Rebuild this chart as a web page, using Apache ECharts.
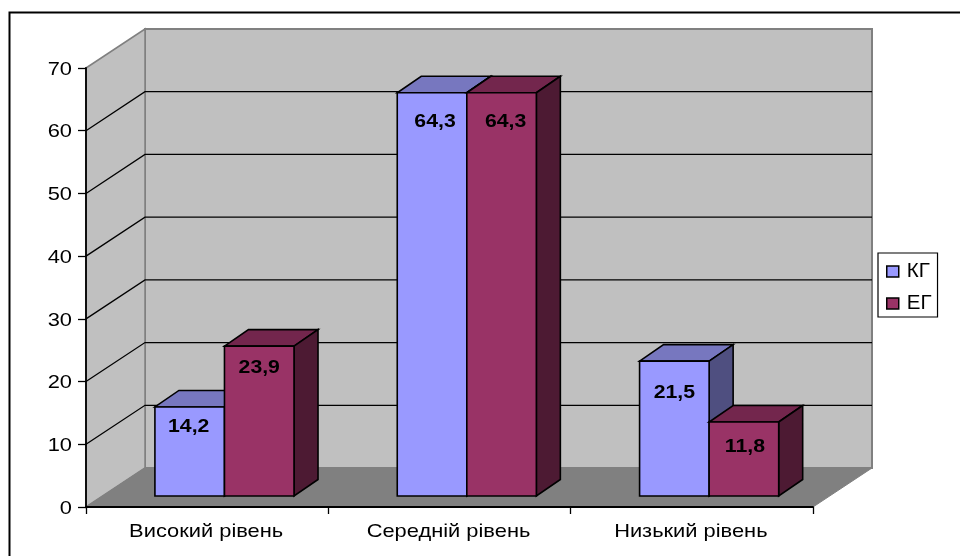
<!DOCTYPE html>
<html>
<head>
<meta charset="utf-8">
<style>html,body{margin:0;padding:0;background:#fff}#chart{width:960px;height:556px}</style>
<script src="https://cdn.jsdelivr.net/npm/echarts@6/dist/echarts.min.js"></script>
</head>
<body>
<div id="chart"></div>
<script>
// Survey levels by group
const categories = ['Високий рівень', 'Середній рівень', 'Низький рівень'];
const groupK = [14.2, 64.3, 21.5];
const groupE = [23.9, 64.3, 11.8];
const valueTicks = [0, 10, 20, 30, 40, 50, 60, 70];

// Oblique projection used to fake the 3D box
const WALL = { dx: 59, dy: -39 };
const FRONT = { dx: 17.3, dy: -11 };
const BAR_DEPTH = { dx: 24, dy: -16.5 };
const BAR_FRACTION = 0.287;

// Text placement inside each bar: [sideways, downwards from the bar top]
const labelOffsetK = [[-1, 20], [3, 29], [0, 32]];
const labelOffsetE = [[0, 22], [4, 29], [1, 25]];

const colorsK = { front: '#9999FF', top: '#7777BF', side: '#4F4F80' };
const colorsE = { front: '#993366', top: '#73264D', side: '#4D1A33' };
const STROKE = '#000000';
const FONT = '"Liberation Sans", Arial, sans-serif';

// All chart text is set in a slightly widened Arial-style face
const TEXT_STYLES = {
  normal: { size: 19, widen: 1.15 },
  bold: { size: 18, widen: 1.18 }
};

function poly(points, fill, stroke, lineWidth) {
  return {
    type: 'polygon',
    shape: { points },
    style: { fill, stroke: stroke || null, lineWidth: lineWidth || 0, lineJoin: 'miter' }
  };
}

function wideText(x, y, text, align, weight) {
  const t = TEXT_STYLES[weight];
  return {
    type: 'text',
    x,
    y,
    scaleX: t.widen,
    z2: 10,
    style: {
      x: 0,
      y: 0,
      text,
      align,
      verticalAlign: 'middle',
      font: weight + ' ' + t.size + 'px ' + FONT,
      fill: '#000'
    }
  };
}

function wallsItem(params, api) {
  const half = api.size([1, 0])[0] / 2;
  const bl = api.coord([0, 0]);
  const tl = api.coord([0, 70]);
  const br = api.coord([2, 0]);
  const x0 = bl[0] - half, x1 = br[0] + half;
  const y0 = bl[1], y1 = tl[1];
  const d = WALL;
  const edge = '#808080';
  return {
    type: 'group',
    children: [
      poly([[x0 + d.dx, y1 + d.dy], [x1 + d.dx, y1 + d.dy], [x1 + d.dx, y0 + d.dy], [x0 + d.dx, y0 + d.dy]], '#C0C0C0', edge, 2),
      poly([[x0, y1], [x0 + d.dx, y1 + d.dy], [x0 + d.dx, y0 + d.dy], [x0, y0]], '#C0C0C0', edge, 1.5),
      poly([[x0, y0], [x0 + d.dx, y0 + d.dy], [x1 + d.dx, y0 + d.dy], [x1, y0]], '#808080', edge, 1)
    ]
  };
}

function gridItem(params, api) {
  const half = api.size([1, 0])[0] / 2;
  const v = api.value(0);
  if (v === 0 || v === 70) return null;
  const x0 = api.coord([0, v])[0] - half;
  const x1 = api.coord([2, v])[0] + half;
  const y = api.coord([0, v])[1];
  return {
    type: 'polyline',
    shape: { points: [[x0, y], [x0 + WALL.dx, y + WALL.dy], [x1 + WALL.dx, y + WALL.dy]] },
    style: { stroke: STROKE, lineWidth: 1.3, fill: null }
  };
}

function valueLabelItem(params, api) {
  const half = api.size([1, 0])[0] / 2;
  const v = api.value(0);
  const p = api.coord([0, v]);
  return wideText(p[0] - half - 14, p[1] + 1.5, String(v), 'right', 'normal');
}

function categoryLabelItem(params, api) {
  const p = api.coord([api.value(0), 0]);
  return wideText(p[0] - 1, p[1] + 25, categories[params.dataIndex], 'center', 'normal');
}

function barRenderer(colors, shift, offsets) {
  return function (params, api) {
    const w = api.size([1, 0])[0] * BAR_FRACTION;
    const i = api.value(0);
    const val = api.value(1);
    const base = api.coord([i, 0]);
    const head = api.coord([i, val]);
    const xl = base[0] + FRONT.dx + shift * w;
    const xr = xl + w;
    const yb = base[1] + FRONT.dy;
    const yt = head[1] + FRONT.dy;
    const ddx = BAR_DEPTH.dx, ddy = BAR_DEPTH.dy;
    const off = offsets[params.dataIndex];
    const text = String(val).replace('.', ',');
    return {
      type: 'group',
      children: [
        poly([[xl, yt], [xr, yt], [xr + ddx, yt + ddy], [xl + ddx, yt + ddy]], colors.top, STROKE, 1.6),
        poly([[xr, yt], [xr + ddx, yt + ddy], [xr + ddx, yb + ddy], [xr, yb]], colors.side, STROKE, 1.6),
        poly([[xl, yt], [xr, yt], [xr, yb], [xl, yb]], colors.front, STROKE, 1.6),
        wideText((xl + xr) / 2 + off[0], yt + off[1], text, 'center', 'bold')
      ]
    };
  };
}

const chart = echarts.init(document.getElementById('chart'), null, { renderer: 'canvas' });
chart.setOption({
  animation: false,
  backgroundColor: '#ffffff',
  grid: { left: 86, top: 68, width: 727, height: 439, containLabel: false },
  xAxis: {
    type: 'category',
    data: categories,
    z: 5,
    axisLine: { lineStyle: { color: STROKE, width: 1.8 } },
    axisTick: { show: true, length: 7, alignWithLabel: false, lineStyle: { color: STROKE, width: 1.3 } },
    axisLabel: { show: false }
  },
  yAxis: {
    type: 'value',
    min: 0,
    max: 70,
    interval: 10,
    z: 5,
    splitLine: { show: false },
    axisLine: { show: true, lineStyle: { color: STROKE, width: 1.8 } },
    axisTick: { show: true, length: 8, lineStyle: { color: STROKE, width: 1.3 } },
    axisLabel: { show: false }
  },
  legend: {
    orient: 'vertical',
    left: 878,
    top: 253,
    padding: [8, 6, 3, 8],
    itemGap: 11,
    itemWidth: 12,
    itemHeight: 11,
    backgroundColor: '#fff',
    borderColor: '#000',
    borderWidth: 1.2,
    borderRadius: 0,
    textStyle: { color: '#000', fontFamily: FONT, fontSize: 20.5, lineHeight: 20, padding: [0, 0, 0, 3] },
    data: [
      { name: 'КГ', icon: 'rect', itemStyle: { color: colorsK.front, borderColor: '#000', borderWidth: 1.5 } },
      { name: 'ЕГ', icon: 'rect', itemStyle: { color: colorsE.front, borderColor: '#000', borderWidth: 1.5 } }
    ]
  },
  graphic: [{
    type: 'polyline',
    silent: true,
    shape: { points: [[9.5, 556], [9.5, 12.5], [960, 12.5]] },
    style: { stroke: '#000', lineWidth: 2, fill: null }
  }],
  series: [
    { type: 'custom', name: 'walls', silent: true, z: 1, data: [[0]], renderItem: wallsItem, encode: { x: 0 } },
    { type: 'custom', name: 'gridlines', silent: true, z: 1.5, data: valueTicks.map(v => [v]), renderItem: gridItem, encode: { y: 0 } },
    { type: 'custom', name: 'КГ', z: 2, itemStyle: { color: colorsK.front },
      data: groupK.map((v, i) => [i, v]), renderItem: barRenderer(colorsK, -1, labelOffsetK), encode: { x: 0, y: 1 } },
    { type: 'custom', name: 'ЕГ', z: 3, itemStyle: { color: colorsE.front },
      data: groupE.map((v, i) => [i, v]), renderItem: barRenderer(colorsE, 0, labelOffsetE), encode: { x: 0, y: 1 } },
    { type: 'custom', name: 'value labels', silent: true, z: 6, data: valueTicks.map(v => [v]), renderItem: valueLabelItem, encode: { y: 0 } },
    { type: 'custom', name: 'category labels', silent: true, z: 6, data: categories.map((c, i) => [i]), renderItem: categoryLabelItem, encode: { x: 0 } }
  ]
});
</script>
</body>
</html>
